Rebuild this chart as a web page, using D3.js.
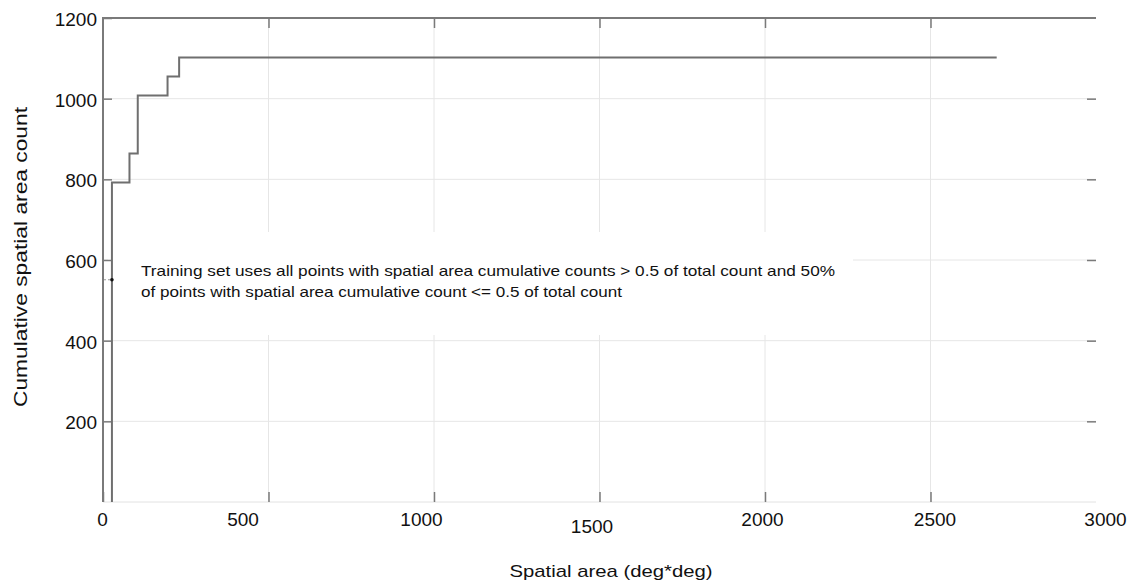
<!DOCTYPE html>
<html>
<head>
<meta charset="utf-8">
<script src="https://cdn.jsdelivr.net/npm/d3@7"></script>
<style>
	body { margin: 0; background: #fff; }
	svg { font-family: "Liberation Sans", Arial, sans-serif; }
</style>
</head>
<body>
<svg id="chart" width="1132" height="586"></svg>
<script>
// step curve: cumulative spatial area count vs spatial area
var areaValues = [27, 27, 80, 105, 195, 230, 2700];
var countValues = [0, 792, 864, 1008, 1055, 1102, 1102];
var halfPoint = [27, 551];

var xTicks = [0, 500, 1000, 1500, 2000, 2500, 3000];
var yTicks = [200, 400, 600, 800, 1000, 1200];
var xTitle = "Spatial area (deg*deg)";
var yTitle = "Cumulative spatial area count";
var noteLines = [
	"Training set uses all points with spatial area cumulative counts > 0.5 of total count and 50%",
	"of points with spatial area cumulative count <= 0.5 of total count"
];

// tick labels in the source are slightly misplaced, keep their nudges here
var xLabelDx = [-1, -26, -13, -8, -3, 4, 9];
var xLabelDy = [0, 0, 0, 7, 0, 0, 0];

var svg = d3.select("#chart");
var plotL = 103, plotR = 1096, plotT = 18, plotB = 502;

var x = d3.scaleLinear().domain([0, 3000]).range([plotL, plotR]);
var y = d3.scaleLinear().domain([0, 1200]).range([plotB, plotT]);

var gridColor = "#e6e6e6", axisColor = "#7a7a7a";

// grid
svg.append("g").selectAll("line.vgrid")
	.data(xTicks.slice(1, -1))
	.enter().append("line")
	.attr("x1", function (d) { return x(d); })
	.attr("x2", function (d) { return x(d); })
	.attr("y1", plotT).attr("y2", plotB)
	.attr("stroke", gridColor).attr("stroke-width", 1);

svg.append("g").selectAll("line.hgrid")
	.data(yTicks.slice(0, -1))
	.enter().append("line")
	.attr("x1", plotL).attr("x2", plotR)
	.attr("y1", function (d) { return y(d); })
	.attr("y2", function (d) { return y(d); })
	.attr("stroke", gridColor).attr("stroke-width", 1);

// bottom border (faint)
svg.append("line")
	.attr("x1", plotL).attr("x2", plotR)
	.attr("y1", plotB).attr("y2", plotB)
	.attr("stroke", "#e2e2e2").attr("stroke-width", 1);

// white box behind the note
svg.append("rect")
	.attr("x", 108).attr("y", 232)
	.attr("width", 745).attr("height", 103)
	.attr("fill", "#fff");

// bottom axis
var xAxis = svg.append("g")
	.attr("transform", "translate(0," + plotB + ")")
	.call(d3.axisBottom(x).tickValues(xTicks).tickSize(-10).tickPadding(0).tickFormat(d3.format("d")));
xAxis.select(".domain").remove();
xAxis.selectAll(".tick line")
	.attr("stroke", axisColor).attr("stroke-width", 1.5)
	.attr("opacity", function (d) { return d == 3000 ? 0 : 1; });
xAxis.selectAll(".tick text")
	.attr("fill", "#111")
	.style("font-size", "19px")
	.attr("y", 0)
	.attr("dy", null)
	.attr("transform", function (d, i) { return "translate(" + xLabelDx[i] + "," + (24 + xLabelDy[i]) + ")"; });

// top ticks
var xTop = svg.append("g")
	.attr("transform", "translate(0," + plotT + ")")
	.call(d3.axisTop(x).tickValues(xTicks.slice(1, -1)).tickSize(-10).tickFormat(""));
xTop.select(".domain").remove();
xTop.selectAll(".tick line").attr("stroke", axisColor).attr("stroke-width", 1.5);

// left axis
var yAxis = svg.append("g")
	.attr("transform", "translate(" + plotL + ",0)")
	.call(d3.axisLeft(y).tickValues(yTicks).tickSize(-9).tickPadding(6).tickFormat(d3.format("d")));
yAxis.select(".domain").remove();
yAxis.selectAll(".tick line").attr("stroke", axisColor).attr("stroke-width", 1.5);
yAxis.selectAll(".tick text")
	.attr("fill", "#111")
	.style("font-size", "19px")
	.attr("x", -6)
	.attr("dy", "0.4em");

// right ticks
var yRight = svg.append("g")
	.attr("transform", "translate(" + plotR + ",0)")
	.call(d3.axisRight(y).tickValues(yTicks.slice(0, -1)).tickSize(-9).tickFormat(""));
yRight.select(".domain").remove();
yRight.selectAll(".tick line").attr("stroke", axisColor).attr("stroke-width", 1.5);

// left and top frame
svg.append("path")
	.attr("d", "M" + plotL + "," + plotB + "V" + plotT + "H" + plotR)
	.attr("fill", "none")
	.attr("stroke", axisColor)
	.attr("stroke-width", 2);

// the step line
var points = areaValues.map(function (d, i) { return [d, countValues[i]]; });
var line = d3.line()
	.x(function (d) { return x(d[0]); })
	.y(function (d) { return y(d[1]); })
	.curve(d3.curveStepAfter);

svg.append("path")
	.datum(points)
	.attr("d", line)
	.attr("fill", "none")
	.attr("stroke", "#6f6f6f")
	.attr("stroke-width", 2);

// half count marker
svg.append("line")
	.attr("x1", x(0) + 1).attr("x2", x(halfPoint[0]))
	.attr("y1", y(halfPoint[1])).attr("y2", y(halfPoint[1]))
	.attr("stroke", "#999")
	.attr("stroke-dasharray", "2,2");
svg.append("circle")
	.attr("cx", x(halfPoint[0]))
	.attr("cy", y(halfPoint[1]))
	.attr("r", 1.8)
	.attr("fill", "#111");

// note text
svg.append("g").selectAll("text.note")
	.data(noteLines)
	.enter().append("text")
	.attr("x", 141)
	.attr("y", function (d, i) { return 276 + i * 21; })
	.attr("textLength", function (d, i) { return i == 0 ? 694 : 481; })
	.attr("lengthAdjust", "spacingAndGlyphs")
	.style("font-size", "15px")
	.attr("fill", "#111")
	.text(function (d) { return d; });

// axis titles
svg.append("text")
	.attr("x", 611)
	.attr("y", 577)
	.attr("text-anchor", "middle")
	.attr("textLength", 203)
	.attr("lengthAdjust", "spacingAndGlyphs")
	.style("font-size", "17px")
	.attr("fill", "#111")
	.text(xTitle);

svg.append("text")
	.attr("transform", "translate(27,257) rotate(-90)")
	.attr("text-anchor", "middle")
	.attr("textLength", 300)
	.attr("lengthAdjust", "spacingAndGlyphs")
	.style("font-size", "19px")
	.attr("fill", "#111")
	.text(yTitle);
</script>
</body>
</html>
